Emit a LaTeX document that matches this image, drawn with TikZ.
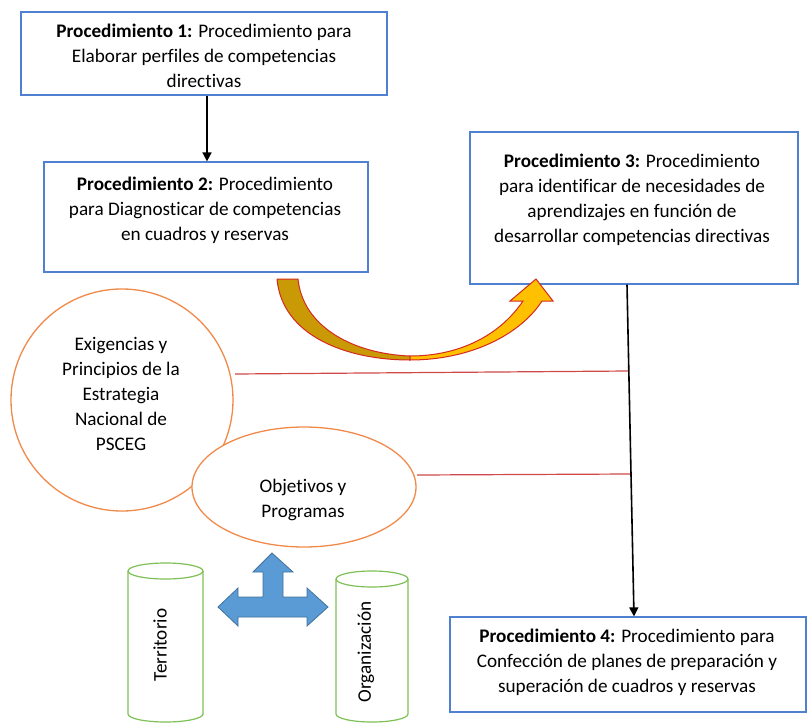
\documentclass[tikz,border=0pt]{standalone}
\usepackage{fontspec}
\setmainfont{Carlito}[Ligatures={NoCommon}]
\usetikzlibrary{arrows.meta,shapes.geometric}
\definecolor{boxblue}{HTML}{4F81D0}
\definecolor{circorange}{HTML}{F08A4B}
\definecolor{linered}{HTML}{D04848}
\definecolor{darkgold}{HTML}{C99A06}
\definecolor{lightgold}{HTML}{FFC000}
\definecolor{arrowred}{HTML}{D42A20}
\definecolor{tblue}{HTML}{5B9BD5}
\definecolor{tblueedge}{HTML}{41719C}
\definecolor{cylgreen}{HTML}{7DC055}
\begin{document}
\begin{tikzpicture}[x=1pt,y=-1pt,
  box/.style={draw=boxblue, line width=1.2pt, fill=white, inner sep=0pt},
  txt/.style={align=center, font=\fontsize{19.2}{25}\selectfont, inner sep=0pt, text=black},
  arr/.style={line width=1.6pt, -{Triangle[length=9pt,width=9pt]}},
  redline/.style={draw=linered, line width=1.2pt},
  cyl/.style={draw=cylgreen, line width=1.2pt},
  orangeshape/.style={draw=circorange, line width=1.3pt, fill=white, inner sep=0pt}]
\useasboundingbox (0,0) rectangle (809,723);

% boxes
\node[box, minimum width=366pt, minimum height=83pt] (b1) at (204,53.5) {};
\node[box, minimum width=324pt, minimum height=110pt] (b2) at (206,217) {};
\node[box, minimum width=328pt, minimum height=152pt] (b3) at (634,208) {};
\node[box, minimum width=356pt, minimum height=95pt] (b4) at (628,664.5) {};

\node[txt] (t1) at (204,56) {\textbf{Procedimiento 1:} Procedimiento para\\Elaborar perfiles de competencias\\directivas};
\node[txt] (t2) at (205,210) {\textbf{Procedimiento 2:} Procedimiento\\para Diagnosticar de competencias\\en cuadros y reservas};
\node[txt] (t3) at (632,200) {\textbf{Procedimiento 3:} Procedimiento\\para identificar de necesidades de\\aprendizajes en función de\\desarrollar competencias directivas};
\node[txt] (t4) at (627,662) {\textbf{Procedimiento 4:} Procedimiento para\\Confección de planes de preparación y\\superación de cuadros y reservas};

% black arrows
\draw[arr] ([xshift=3pt]b1.south) -- ([xshift=1pt]b2.north);
\draw[arr] ([xshift=-7pt]b3.south) -- ([xshift=6pt]b4.north);

% curved arrow
\draw[arrowred, line width=1pt, fill=darkgold, line join=round]
  (277,279) .. controls (282,335) and (345,360) .. (410,360)
  -- (410,356) .. controls (355,354) and (303,328) .. (298,279) -- cycle;
\draw[arrowred, line width=1pt, fill=lightgold, line join=miter]
  (410,360) .. controls (470,360) and (520,335) .. (542,301)
  -- (553,301) -- (536,279) -- (510,301) -- (523,301)
  .. controls (500,335) and (460,356) .. (410,356) -- cycle;

% circle and ellipse
\node[circle, orangeshape, minimum size=222pt] (circ) at (122,400) {};
\node[txt] (tc) at (121,394) {Exigencias y\\Principios de la\\Estrategia\\Nacional de\\PSCEG};
\node[ellipse, orangeshape, minimum width=224pt, minimum height=120pt] (ell) at (304,487) {};
\node[txt] (te) at (303,500) {Objetivos y\\Programas};

% red lines
\coordinate (r1a) at (235,374);
\coordinate (r1b) at (628,371);
\coordinate (r2a) at (417,475);
\coordinate (r2b) at (630,474);
\draw[redline] (r1a) -- (r1b);
\draw[redline] (r2a) -- (r2b);

% blue three-way arrow
\draw[draw=tblueedge, fill=tblue, line width=0.8pt, line join=miter]
  (272,553) -- (293,572) -- (283,572) -- (283,597) -- (307,597) -- (307,588)
  -- (328,607) -- (307,626) -- (307,617) -- (238,617) -- (238,626) -- (218,607)
  -- (238,588) -- (238,597) -- (263,597) -- (263,572) -- (253,572) -- cycle;

% cylinders
\draw[cyl] (128,571) -- (128,714) arc[start angle=180, end angle=0, x radius=37.5, y radius=8] -- (203,571);
\draw[cyl] (165.5,571) ellipse[x radius=37.5, y radius=8];
\node[txt, rotate=90] (tt) at (160,645) {Territorio};

\draw[cyl] (336,579) -- (336,714) arc[start angle=180, end angle=0, x radius=36, y radius=8] -- (408,579);
\draw[cyl] (372,579) ellipse[x radius=36, y radius=8];
\node[txt, rotate=90] (to) at (366,652) {Organización};
\end{tikzpicture}
\end{document}
